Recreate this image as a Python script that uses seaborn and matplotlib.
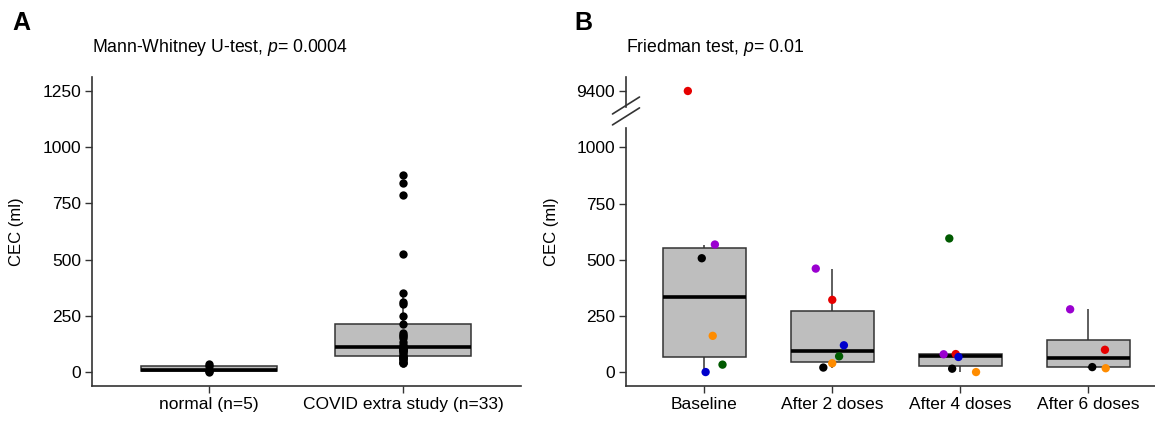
import numpy as np
import pandas as pd
import matplotlib
matplotlib.use("Agg")
import matplotlib.pyplot as plt
import seaborn as sns

sns.set_theme(style="ticks")
plt.rcParams['font.family'] = ['Liberation Sans', 'DejaVu Sans']
plt.rcParams['mathtext.fontset'] = 'custom'
plt.rcParams['mathtext.it'] = 'Liberation Sans:italic'
plt.rcParams['mathtext.rm'] = 'Liberation Sans'
plt.rcParams['text.color'] = 'black'
plt.rcParams['axes.labelcolor'] = 'black'

# Panel A data
normal_vals = [0, 3, 8, 25, 38]
covid_vals = [39, 42, 46, 52, 58, 61, 65, 68, 71, 80, 88, 95, 98, 100, 104, 108, 110,
              113, 120, 135, 150, 160, 165, 175, 214, 251, 303, 313, 353, 525, 787, 839, 877]
groups_a = ["normal (n=5)", "COVID extra study (n=33)"]

# Panel B data (one value per patient per time point)
timepoints = ["Baseline", "After 2 doses", "After 4 doses", "After 6 doses"]
patients = ["red", "purple", "black", "orange", "green", "blue"]
baseline = [9400, 568, 507, 162, 34, 1]
after2 = [322, 461, 21, 40, 71, 120]
after4 = [81, 80, 16, 1, 595, 68]
after6 = [100, 280, 23, 18, None, None]
patient_colors = {"red": "#E60000", "purple": "#9A00D0", "black": "#000000",
                  "orange": "#FF8C00", "green": "#005A00", "blue": "#0000CC"}

df_a = pd.DataFrame({
    "group": [groups_a[0]] * len(normal_vals) + [groups_a[1]] * len(covid_vals),
    "cec": normal_vals + covid_vals,
})

rows = []
for tp, vals in zip(timepoints, [baseline, after2, after4, after6]):
    for p, v in zip(patients, vals):
        if v is not None:
            rows.append({"time": tp, "patient": p, "cec": v})
df_b = pd.DataFrame(rows)

W, H = 1155, 422
fig = plt.figure(figsize=(W / 100, H / 100), dpi=100)

def px_axes(left, top, right, bottom):
    return fig.add_axes([left / W, 1 - bottom / H, (right - left) / W, (bottom - top) / H])

box_kw = dict(color="#BEBEBE", saturation=1, showfliers=False, showcaps=False,
              linecolor="#333333", linewidth=1.1,
              medianprops={"color": "black", "linewidth": 2.6})

def style(ax):
    sns.despine(ax=ax)
    for s in ["left", "bottom"]:
        ax.spines[s].set_color("#333333")
        ax.spines[s].set_linewidth(1.2)
    ax.tick_params(axis="both", length=5, width=1, color="#333333",
                   labelsize=12.5, labelcolor="black", pad=3)

# ---- Panel A ----
ax_a = px_axes(92, 77, 521, 386)
sns.boxplot(data=df_a, x="group", y="cec", order=groups_a, width=0.7, ax=ax_a, **box_kw)
sns.stripplot(data=df_a, x="group", y="cec", order=groups_a, jitter=False,
              color="black", size=6, linewidth=0, ax=ax_a, zorder=3)
ax_a.set_xlim(-0.603, 1.608)
ax_a.set_ylim(-62, 1312)
ax_a.set_yticks([0, 250, 500, 750, 1000, 1250])
ax_a.set_xlabel("")
ax_a.set_ylabel("CEC (ml)", fontsize=12)
ax_a.yaxis.set_label_coords(-0.159, 0.5)
style(ax_a)
ax_a.set_title("Mann-Whitney U-test, $\\mathit{p}$= 0.0004", loc="left", fontsize=12.7, pad=18)

# ---- Panel B (broken y axis) ----
ax_top = px_axes(626, 77, 1155, 107)
ax_b = px_axes(626, 128, 1155, 386)

for ax in [ax_b, ax_top]:
    sns.boxplot(data=df_b, x="time", y="cec", order=timepoints, width=0.65, ax=ax, **box_kw)
    np.random.seed(7)
    sns.stripplot(data=df_b, x="time", y="cec", order=timepoints, hue="patient",
                  palette=patient_colors, jitter=0.15, size=6, linewidth=0,
                  legend=False, ax=ax, zorder=3)
    ax.set_xlim(-0.61, 3.52)
    ax.set_xlabel("")
    ax.set_ylabel("")
    style(ax)

ax_b.set_ylim(-61, 1086)
ax_b.set_yticks([0, 250, 500, 750, 1000])
ax_b.set_ylabel("CEC (ml)", fontsize=12)
ax_b.yaxis.set_label_coords(-0.127, 0.60)

ax_top.set_ylim(9329, 9462)
ax_top.set_yticks([9400])
ax_top.spines["bottom"].set_visible(False)
ax_top.tick_params(axis="x", bottom=False, labelbottom=False)
ax_top.set_title("Friedman test, $\\mathit{p}$= 0.01", loc="left", fontsize=12.7, pad=18)

# break marks on the y axis
dx = 13.5 / 529
ax_top.plot([-dx, dx], [-0.283 + 0.05, 0.283 + 0.05], transform=ax_top.transAxes,
            color="#333333", lw=1.2, clip_on=False)
ax_b.plot([-dx, dx], [1 + 0.045 - 0.033, 1 + 0.045 + 0.033], transform=ax_b.transAxes,
          color="#333333", lw=1.2, clip_on=False)

fig.text(12 / W, 1 - 23 / H, "A", fontsize=18, fontweight="bold", va="center", ha="left")
fig.text(574 / W, 1 - 23 / H, "B", fontsize=18, fontweight="bold", va="center", ha="left")

fig.savefig("out.png", dpi=100)
